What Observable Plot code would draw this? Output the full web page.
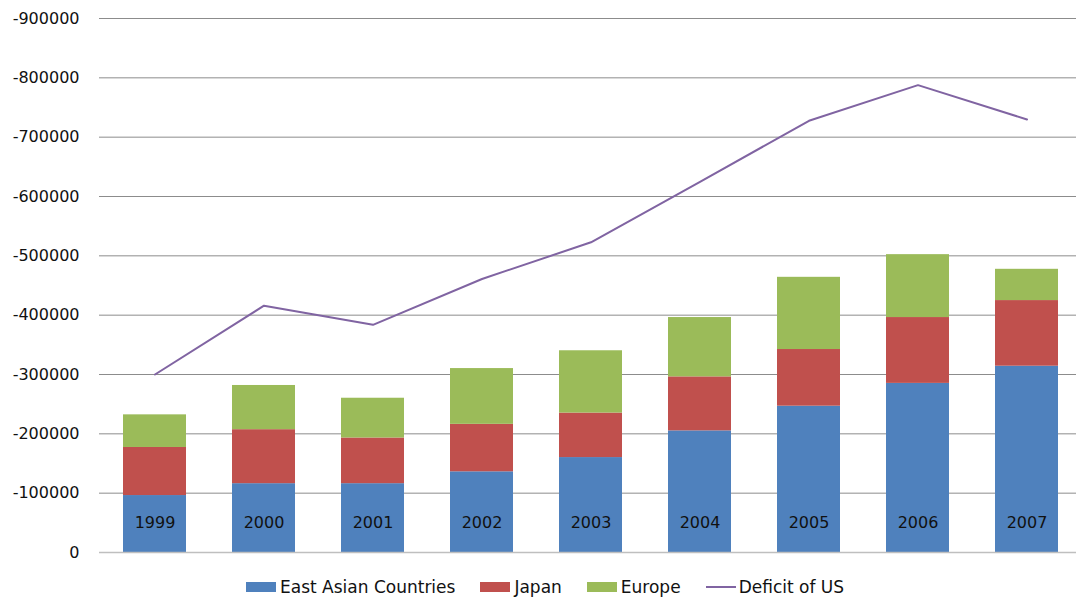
<!DOCTYPE html>
<html>
<head>
<meta charset="utf-8">
<script src="https://cdn.jsdelivr.net/npm/d3@7"></script>
<script src="https://cdn.jsdelivr.net/npm/@observablehq/plot@0.6"></script>
<style>
  html, body { margin: 0; padding: 0; background: #fff; }
  #chart svg { display: block; }
  .legend {
    display: flex; align-items: center; gap: 25px;
    margin: 4px 0 0 246px; height: 22px;
    font-family: "DejaVu Sans", sans-serif; font-size: 17px; color: #111;
  }
  .legend .item { display: flex; align-items: center; }
  .legend .sw { width: 30px; height: 10px; margin-right: 4px; }
  .legend .ln { width: 30px; height: 2px; margin-right: 3px; }
</style>
</head>
<body>
<div id="chart"></div>
<script>
// Yearly figures (negative = deficit), stacked by source region
const years = ["1999", "2000", "2001", "2002", "2003", "2004", "2005", "2006", "2007"];
const eastAsia = [-96000, -116000, -116000, -136000, -160000, -205000, -246600, -285000, -314000];
const japan    = [-81000, -91000, -77000, -80000, -75000, -91000, -95500, -111000, -110600];
const europe   = [-55000, -74500, -67000, -94000, -105000, -100000, -121700, -106000, -52700];
const usDeficit = [-300000, -416000, -383700, -461000, -522800, -624600, -727600, -787700, -729800];
const yTicks = [0, -100000, -200000, -300000, -400000, -500000, -600000, -700000, -800000, -900000];

const seriesNames = ["East Asian Countries", "Japan", "Europe"];
const seriesValues = [eastAsia, japan, europe];
const colors = { "East Asian Countries": "#4F81BD", "Japan": "#C0504D", "Europe": "#9BBB59" };
const lineColor = "#8064A2";

const stacked = [];
years.forEach((year, i) => {
  seriesNames.forEach((name, s) => stacked.push({ year, series: name, value: seriesValues[s][i] }));
});
const deficitRows = years.map((year, i) => ({ year, value: usDeficit[i] }));

const chart = Plot.plot({
  width: 1076,
  height: 572,
  marginLeft: 99,
  marginRight: -6,
  marginTop: 18,
  marginBottom: 20,
  style: { fontFamily: "DejaVu Sans, sans-serif", fontSize: "16px", color: "#111", background: "#fff" },
  x: { domain: years, paddingInner: 0.423, paddingOuter: 0.2115, axis: null },
  y: { domain: [0, -900000], ticks: yTicks, tickFormat: d => String(d), tickSize: 0, tickPadding: 20, label: null },
  color: { domain: seriesNames, range: seriesNames.map(n => colors[n]) },
  marks: [
    Plot.ruleY(yTicks.filter(t => t !== 0), { stroke: "#8c8c8c", strokeWidth: 1 }),
    Plot.barY(stacked, Plot.stackY({ x: "year", y: "value", fill: "series", order: null })),
    Plot.ruleY([0], { stroke: "#bfbfbf", strokeWidth: 1.5 }),
    Plot.line(deficitRows, { x: "year", y: "value", stroke: lineColor, strokeWidth: 2 }),
    Plot.text(years, { x: d => d, y: () => 0, dy: -30, text: d => d, fill: "#111", fontSize: 16 })
  ]
});
document.getElementById("chart").appendChild(chart);

// Legend row under the plot
const legend = document.createElement("div");
legend.className = "legend";
seriesNames.forEach(name => {
  const item = document.createElement("div");
  item.className = "item";
  item.innerHTML = `<span class="sw" style="background:${colors[name]}"></span><span>${name}</span>`;
  legend.appendChild(item);
});
const lineItem = document.createElement("div");
lineItem.className = "item";
lineItem.innerHTML = `<span class="ln" style="background:${lineColor}"></span><span>Deficit of US</span>`;
legend.appendChild(lineItem);
document.body.appendChild(legend);
</script>
</body>
</html>
